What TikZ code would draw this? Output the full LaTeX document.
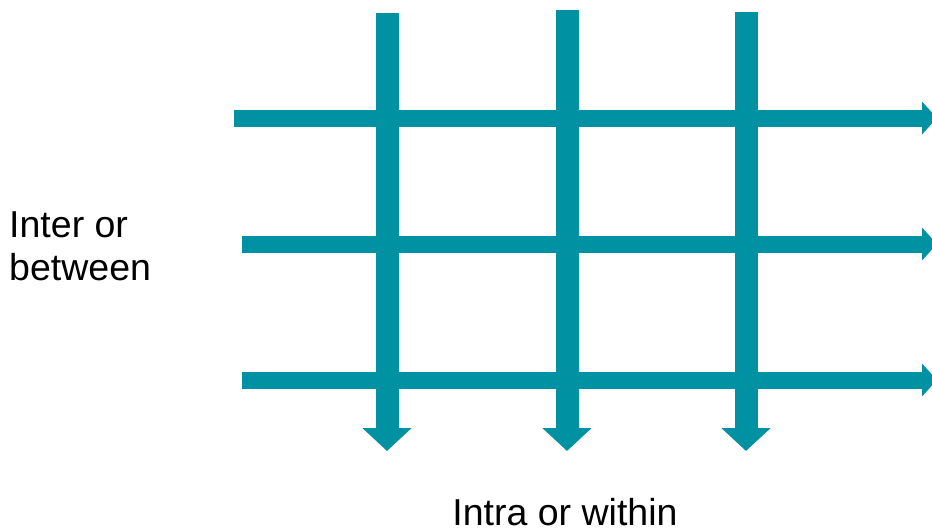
\documentclass[tikz,border=0pt]{standalone}
\usepackage{fontspec}
\setmainfont{Liberation Sans}
\usetikzlibrary{arrows.meta}
\definecolor{teal}{RGB}{0,146,162}
\tikzset{
  vbar/.style={draw=teal, line width=23pt, -{Triangle[width=48pt,length=23pt]}},
  hbar/.style={draw=teal, line width=17pt, -{Triangle[width=32pt,length=15pt]}},
  lbl/.style={font=\fontsize{37.5}{43}\selectfont, text=black, inner sep=0pt}
}
\begin{document}
\begin{tikzpicture}[x=1pt,y=-1pt]
  \useasboundingbox (0,0) rectangle (932,528);
  \clip (0,0) rectangle (932,528);
  % end points of the horizontal flows
  \coordinate (h1s) at (234,118); \coordinate (h1e) at (937,118);
  \coordinate (h2s) at (242,244); \coordinate (h2e) at (937,244);
  \coordinate (h3s) at (242,380); \coordinate (h3e) at (937,380);
  % end points of the vertical flows
  \coordinate (v1s) at (387,13); \coordinate (v1e) at (387,451);
  \coordinate (v2s) at (567,10); \coordinate (v2e) at (567,451);
  \coordinate (v3s) at (746,12); \coordinate (v3e) at (746,451);
  \draw[hbar] (h1s) -- (h1e);
  \draw[hbar] (h2s) -- (h2e);
  \draw[hbar] (h3s) -- (h3e);
  \draw[vbar] (v1s) -- (v1e);
  \draw[vbar] (v2s) -- (v2e);
  \draw[vbar] (v3s) -- (v3e);
  \node[lbl, anchor=west, align=left] (inter) at (9,246) {Inter or\\between};
  \node[lbl, anchor=base] (intra) at (565,525) {Intra or within};
\end{tikzpicture}
\end{document}
